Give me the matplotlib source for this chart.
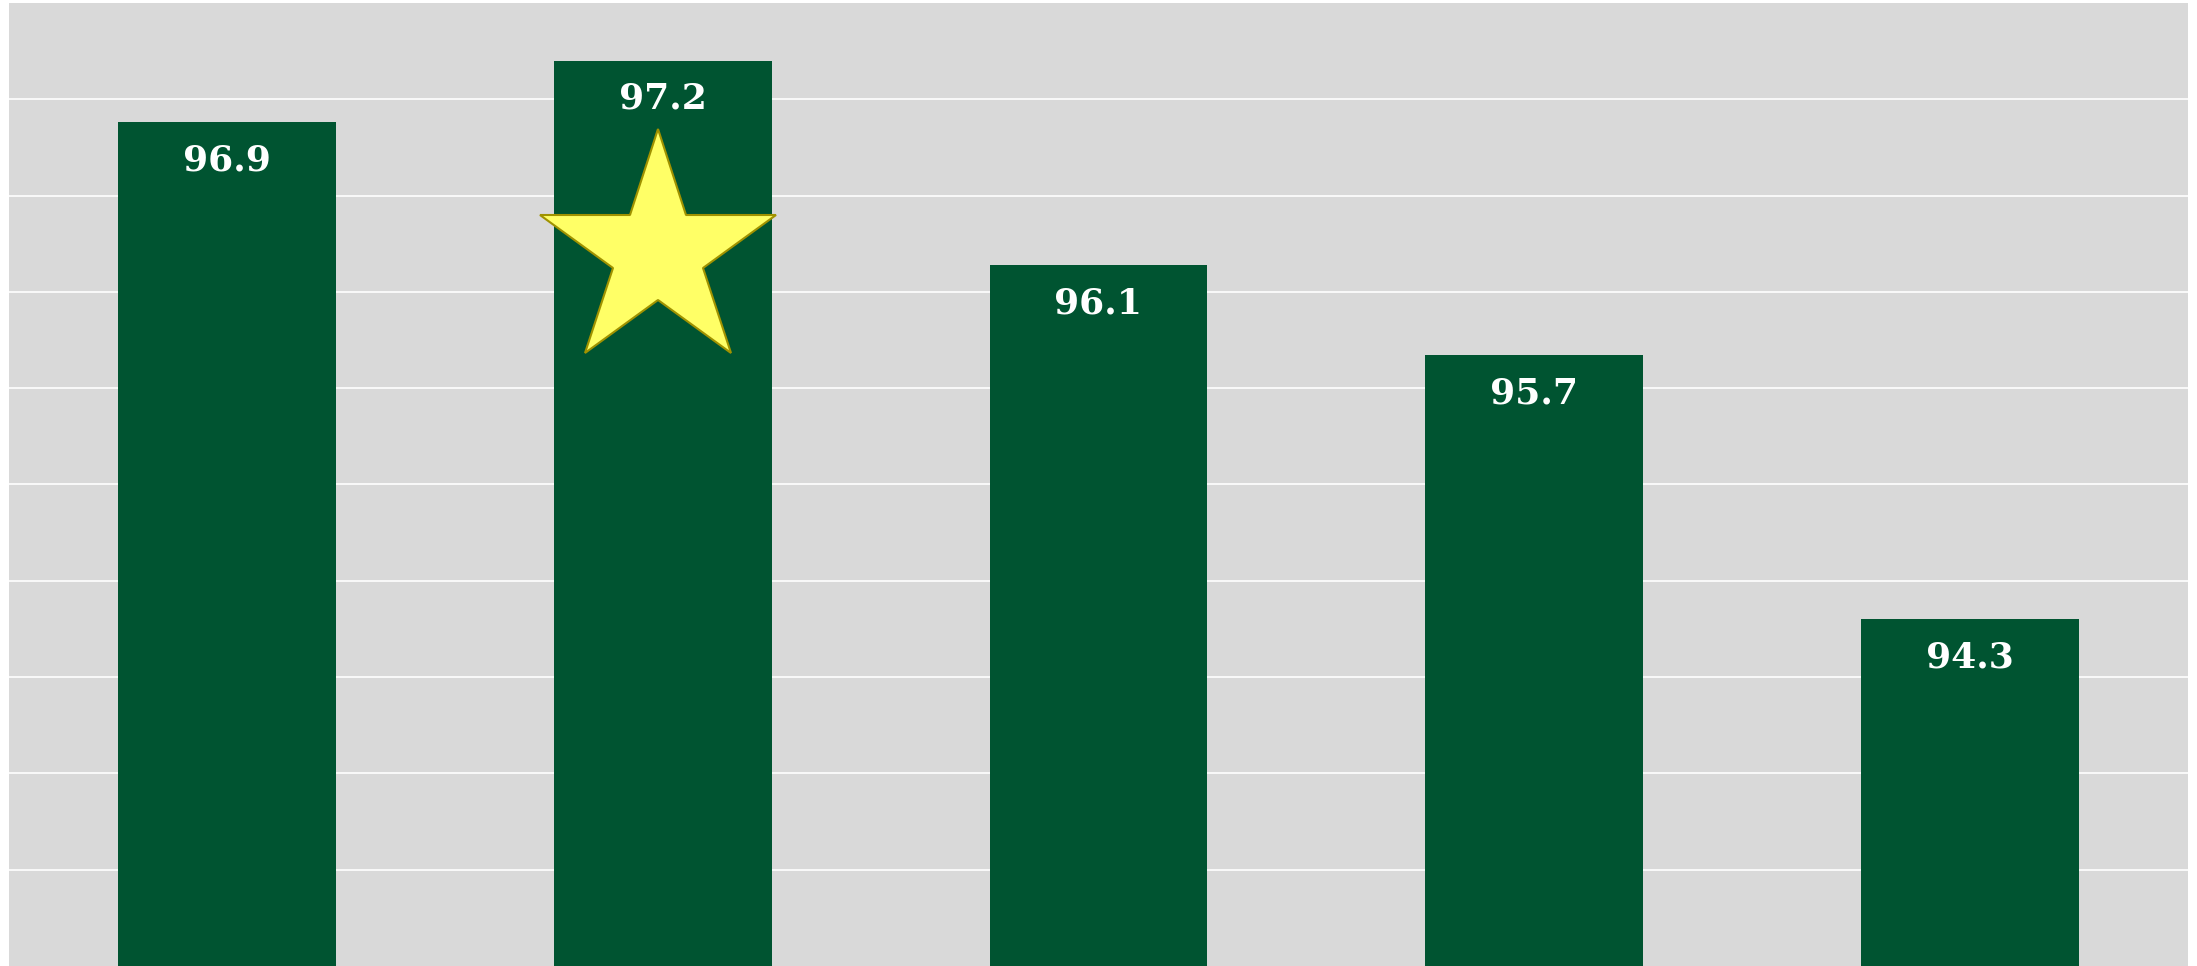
import matplotlib
matplotlib.use("Agg")
import matplotlib.pyplot as plt

categories = ["1", "2", "3", "4", "5"]
values = [96.88, 97.2, 96.14, 95.67, 94.3]
highlight_index = 1

W, H, DPI = 2197, 966, 100
fig = plt.figure(figsize=(W / DPI, H / DPI), dpi=DPI)
fig.patch.set_facecolor("white")
ax = fig.add_axes([9 / W, 0, (2188 - 9) / W, (966 - 3) / H])
ax.set_facecolor("#D9D9D9")

x = list(range(len(categories)))
ax.bar(x, values, width=0.5, color="#005431", zorder=2, bottom=0)

ax.set_xlim(-0.5, len(categories) - 0.5)
ax.set_ylim(92.5, 97.5)
ax.set_yticks([93.0 + 0.5 * i for i in range(9)])
ax.yaxis.grid(True, color="white", linewidth=1.2, zorder=1)
ax.set_axisbelow(True)
ax.tick_params(left=False, bottom=False, labelleft=False, labelbottom=False)
for s in ax.spines.values():
    s.set_visible(False)

for xi, v in zip(x, values):
    ax.annotate(f"{v:.1f}", xy=(xi, v), xytext=(0, -27.5), textcoords="offset points",
                ha="center", va="center", color="white", fontsize=26,
                fontweight="bold", family="DejaVu Serif", zorder=4)

# star marker on the highest bar
ax.plot([highlight_index - 0.01], [values[highlight_index] - 1.0], marker="*",
        markersize=178, markerfacecolor="#FFFF66", markeredgecolor="#A09200",
        markeredgewidth=1.5, linestyle="none", zorder=3)

fig.savefig("out.png", dpi=DPI)
